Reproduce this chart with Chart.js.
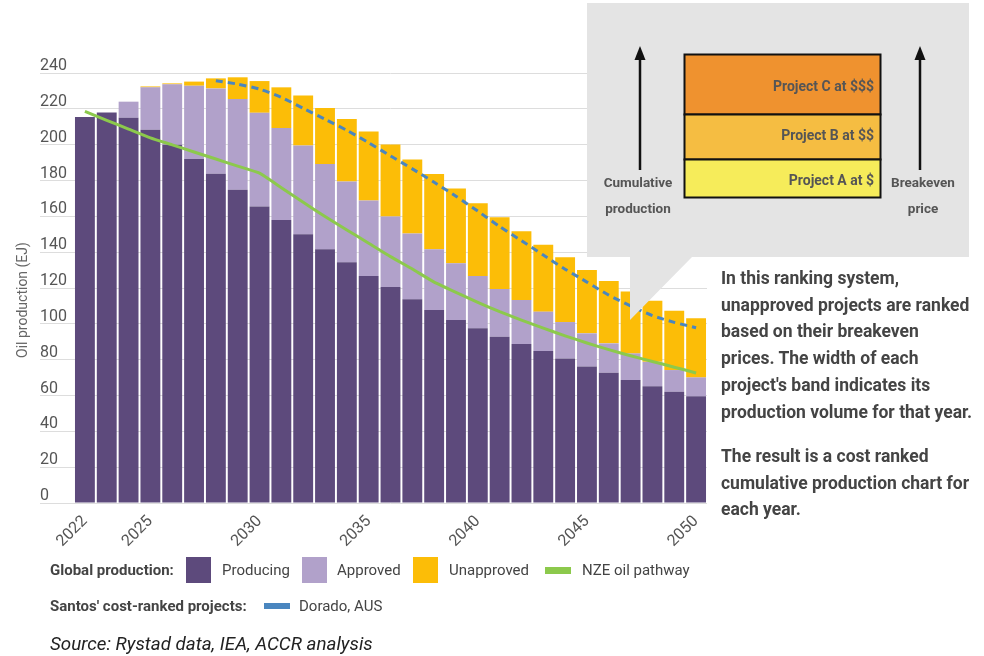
<!DOCTYPE html>
<html>
<head>
<meta charset="utf-8">
<script src="https://cdn.jsdelivr.net/npm/chart.js@4.4.1/dist/chart.umd.min.js"></script>
<style>
  body { margin: 0; background: #fff; font-family: Roboto, "Open Sans", sans-serif; }
  #page { position: relative; width: 984px; height: 656px; overflow: hidden; }
  #chartBox { position: absolute; left: 0; top: 0; width: 720px; height: 560px; }
  #ytitle { position: absolute; left: 22px; top: 300px; transform: translate(-50%, -50%) rotate(-90deg);
            font-size: 14px; color: #666; white-space: nowrap; }
  #callout { position: absolute; left: 0; top: 0; }
  #notes { position: absolute; left: 721px; top: 265px; color: #444; white-space: nowrap;
           font-weight: bold; font-size: 17.5px; line-height: 26.7px; }
  #notes p { margin: 0 0 17.6px 0; }
  .lg { position: absolute; font-size: 15px; color: #444; white-space: nowrap; line-height: 18px; }
  .lg b { font-weight: bold; }
  .sw { position: absolute; }
  #source { position: absolute; left: 50px; top: 633px; font-size: 18.8px; font-style: italic; color: #222; }
</style>
</head>
<body>
<div id="page">
  <div id="chartBox"><canvas id="oilChart" width="720" height="560"></canvas></div>
  <div id="ytitle">Oil production (EJ)</div>

  <svg id="callout" width="984" height="656" xmlns="http://www.w3.org/2000/svg">
    <path d="M587,3 H969 V257 H692 L630,320 V257 H587 Z" fill="#e4e4e4"/>
    <!-- arrows either side of the ranking box -->
    <line x1="640" y1="170" x2="640" y2="58" stroke="#111" stroke-width="2.5"/>
    <polygon points="640,46 634.5,60 645.5,60" fill="#111"/>
    <line x1="920" y1="170" x2="920" y2="58" stroke="#111" stroke-width="2.5"/>
    <polygon points="920,46 914.5,60 925.5,60" fill="#111"/>
    <!-- stacked ranking box -->
    <rect x="684.5" y="54.5" width="196" height="60" fill="#ef922f" stroke="#111" stroke-width="2"/>
    <rect x="684.5" y="114.5" width="196" height="45" fill="#f5bd42" stroke="#111" stroke-width="2"/>
    <rect x="684.5" y="159.5" width="196" height="38" fill="#f6ec5a" stroke="#111" stroke-width="2"/>
    <g font-family="Roboto, sans-serif" font-weight="bold" font-size="14" fill="#555" text-anchor="end" dominant-baseline="central">
      <text x="874" y="86">Project C at $$$</text>
      <text x="874" y="135">Project B at $$</text>
      <text x="874" y="180">Project A at $</text>
    </g>
    <g font-family="Roboto, sans-serif" font-weight="bold" font-size="13.5" fill="#555" text-anchor="middle" dominant-baseline="central">
      <text x="638" y="182">Cumulative</text>
      <text x="638" y="208">production</text>
      <text x="923" y="182">Breakeven</text>
      <text x="923" y="208">price</text>
    </g>
  </svg>

  <div id="notes">
    <p>In this ranking system,<br>unapproved projects are ranked<br>based on their breakeven<br>prices. The width of each<br>project's band indicates its<br>production volume for that year.</p>
    <p>The result is a cost ranked<br>cumulative production chart for<br>each year.</p>
  </div>

  <div id="legend"></div>
  <div id="source">Source: Rystad data, IEA, ACCR analysis</div>
</div>

<script>
// years on the x axis, one bar each
const years = ['2022','2023','2024','2025','2026','2027','2028','2029','2030','2031',
  '2032','2033','2034','2035','2036','2037','2038','2039','2040','2041',
  '2042','2043','2044','2045','2046','2047','2048','2049','2050'];
// only these years get a label
const yearLabels = ['2022','2025','2030','2035','2040','2045','2050'];

// global oil production by status (EJ)
const producing = [215.4, 218.0, 215.0, 208.3, 200.0, 192.0, 183.7, 174.8, 165.5, 158.0,
  150.0, 141.6, 134.4, 126.7, 120.6, 113.7, 107.7, 102.1, 97.5, 92.8,
  88.7, 84.8, 80.7, 76.2, 72.7, 68.6, 65.2, 62.1, 59.6];
const approved = [0, 0, 9.0, 23.7, 33.7, 40.9, 47.7, 50.7, 52.3, 51.3,
  49.6, 47.6, 45.0, 42.1, 39.3, 36.7, 33.9, 31.7, 29.2, 26.7,
  24.6, 22.0, 20.3, 18.5, 16.4, 14.9, 13.6, 12.1, 10.5];
const unapproved = [0, 0, 0, 0.5, 0.5, 2.3, 5.6, 12.1, 17.7, 22.7,
  27.9, 31.2, 34.9, 38.6, 40.2, 41.3, 42.0, 41.7, 40.6, 40.0,
  38.4, 37.4, 36.2, 35.4, 34.8, 34.5, 34.1, 33.1, 33.0];

// IEA net zero pathway
const nzePathway = [218.6, 213.6, 208.7, 203.8, 199.9, 195.9, 192.0, 188.0, 184.1, 176.0,
  167.8, 159.9, 152.4, 145.0, 137.5, 130.6, 123.3, 117.6, 112.0, 106.8,
  102.1, 97.6, 93.3, 89.3, 85.6, 82.2, 79.0, 75.8, 72.6];

// cumulative production where Dorado sits in the cost ranking
const dorado = [null, null, null, null, null, null, 235.7, 233.8, 231.0, 226.4,
  220.3, 214.2, 208.0, 201.1, 193.7, 186.5, 179.0, 171.2, 162.9, 154.3,
  146.4, 138.4, 130.5, 123.3, 116.0, 110.0, 104.6, 100.8, 97.8];

const yMax = 240;
const yStep = 20;

const colors = {
  producing: '#5d4a7c',
  approved: '#b1a1ca',
  unapproved: '#fcbd07',
  nze: '#8cc94c',
  dorado: '#4a86bf'
};

const barOpts = { stack: 'global', barPercentage: 0.91, categoryPercentage: 1, borderWidth: 0, order: 2 };

new Chart(document.getElementById('oilChart'), {
  type: 'bar',
  data: {
    labels: years,
    datasets: [
      { label: 'Producing', data: producing, backgroundColor: colors.producing, ...barOpts },
      { label: 'Approved', data: approved, backgroundColor: colors.approved, ...barOpts },
      { label: 'Unapproved', data: unapproved, backgroundColor: colors.unapproved, ...barOpts },
      { type: 'line', label: 'NZE oil pathway', data: nzePathway, stack: 'nze', order: 1,
        borderColor: colors.nze, borderWidth: 3, pointRadius: 0, tension: 0.15, fill: false },
      { type: 'line', label: 'Dorado, AUS', data: dorado, stack: 'dorado', order: 0,
        borderColor: colors.dorado, borderWidth: 3, borderDash: [7, 5], pointRadius: 0, tension: 0.2, fill: false }
    ]
  },
  options: {
    responsive: false,
    animation: false,
    devicePixelRatio: 1,
    layout: { padding: { left: 40, right: 13, top: 73, bottom: 2 } },
    plugins: { legend: { display: false }, tooltip: { enabled: false } },
    scales: {
      x: {
        stacked: true,
        grid: { display: false },
        border: { display: false },
        ticks: {
          autoSkip: false,
          maxRotation: 45,
          minRotation: 45,
          padding: 1,
          color: '#555',
          font: { family: 'Roboto', size: 16 },
          callback(value) {
            const y = this.getLabelForValue(value);
            return yearLabels.includes(y) ? y : '';
          }
        },
        // fixed height keeps the plot bottom on the same line
        afterFit(axis) { axis.height = 55; }
      },
      y: {
        stacked: true,
        min: 0,
        max: yMax,
        grid: { color: '#dddddd', lineWidth: 1, tickLength: 34 },
        border: { display: false },
        ticks: {
          stepSize: yStep,
          crossAlign: 'far',
          labelOffset: -7,
          padding: 0,
          color: '#555',
          font: { family: 'Roboto', size: 16 }
        },
        afterFit(axis) { axis.width = 34; }
      }
    }
  }
});

// legend rows under the chart
const legendRows = [
  { title: 'Global production:', x: 50, y: 570, items: [
    { text: 'Producing', color: colors.producing, sx: 186, tx: 222, w: 25, h: 26 },
    { text: 'Approved', color: colors.approved, sx: 302, tx: 337, w: 25, h: 26 },
    { text: 'Unapproved', color: colors.unapproved, sx: 413, tx: 449, w: 25, h: 26 },
    { text: 'NZE oil pathway', color: colors.nze, sx: 545, tx: 582, w: 26, h: 7 }
  ]},
  { title: "Santos' cost-ranked projects:", x: 50, y: 606, items: [
    { text: 'Dorado, AUS', color: colors.dorado, sx: 264, tx: 299, w: 26, h: 6 }
  ]}
];

const legendEl = document.getElementById('legend');
legendRows.forEach(row => {
  const t = document.createElement('div');
  t.className = 'lg';
  t.innerHTML = '<b>' + row.title + '</b>';
  t.style.left = row.x + 'px';
  t.style.top = (row.y - 9) + 'px';
  legendEl.appendChild(t);
  row.items.forEach(it => {
    const s = document.createElement('div');
    s.className = 'sw';
    s.style.left = it.sx + 'px';
    s.style.top = (row.y - it.h / 2) + 'px';
    s.style.width = it.w + 'px';
    s.style.height = it.h + 'px';
    s.style.background = it.color;
    legendEl.appendChild(s);
    const l = document.createElement('div');
    l.className = 'lg';
    l.textContent = it.text;
    l.style.left = it.tx + 'px';
    l.style.top = (row.y - 9) + 'px';
    legendEl.appendChild(l);
  });
});
</script>
</body>
</html>
